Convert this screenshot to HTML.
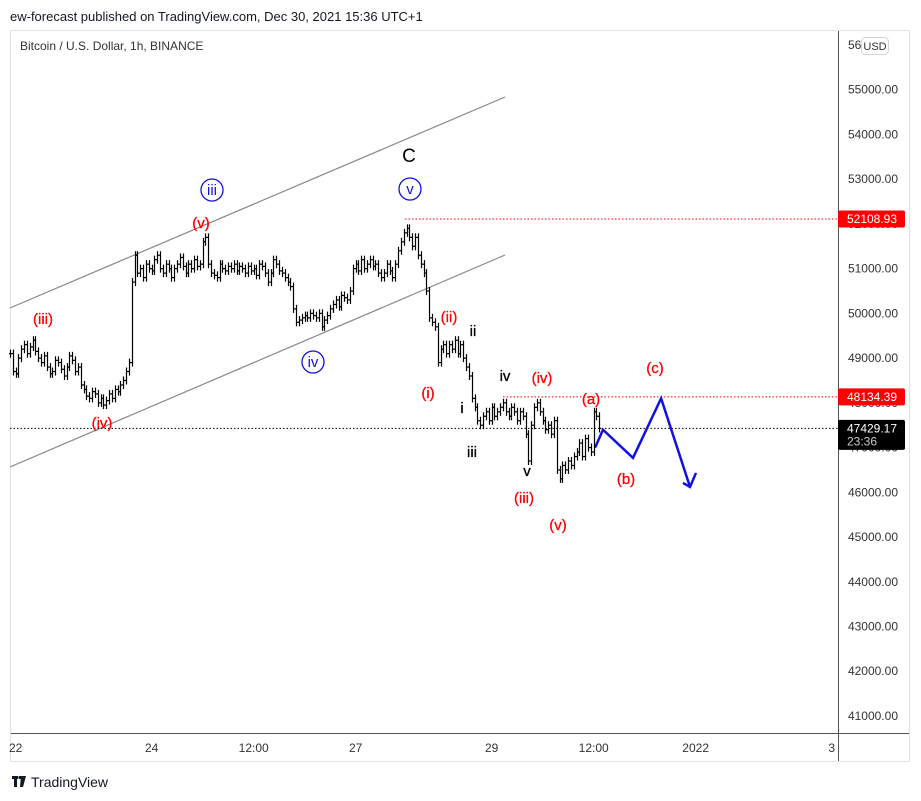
<!DOCTYPE html>
<html><head><meta charset="utf-8">
<style>
html,body{margin:0;padding:0;background:#fff;width:921px;height:801px;overflow:hidden;font-family:"Liberation Sans",sans-serif;}
svg text{font-family:"Liberation Sans",sans-serif;}
</style></head>
<body>
<svg id="chart" width="921" height="801" viewBox="0 0 921 801">
  <text x="10" y="21" font-size="13" fill="#131722">ew-forecast published on TradingView.com, Dec 30, 2021 15:36 UTC+1</text>
  <rect x="10.5" y="30.5" width="899" height="731" fill="#fff" stroke="#e0e3eb"/>
  <line x1="838.5" y1="31" x2="838.5" y2="761" stroke="#555"/>
  <line x1="11" y1="733.5" x2="909" y2="733.5" stroke="#555"/>
  <text x="20" y="50" font-size="12" fill="#333">Bitcoin / U.S. Dollar, 1h, BINANCE</text>
  <g id="yaxis"></g>
  <g id="xaxis"></g>
  <g id="lines"></g>
  <g id="bars"></g>
  <g id="labels"></g>
  <g id="pricetags"></g>
  <rect x="861.5" y="37.5" width="27" height="17" rx="4" fill="#fff" stroke="#d1d4dc"/>
  <text x="875" y="50" font-size="11" fill="#333" text-anchor="middle">USD</text>
  <g>
    <rect x="12" y="776" width="6" height="3" fill="#131722"/><rect x="14" y="776" width="3" height="11" fill="#131722"/>
    <path d="M21 776 L26 776 L23 787 L20 787 Z" fill="#131722"/><circle cx="20" cy="777.5" r="1.6" fill="#131722"/>
    <text x="31" y="787" font-size="14" fill="#131722">TradingView</text>
  </g>
</svg>
<script>
const closes = [49100,48700,48650,49000,49200,49300,49100,49250,49400,49150,49000,
48900,49050,48800,48650,48700,48950,48900,48750,48600,48800,49050,48950,48700,48800,
48400,48300,48150,48100,48250,48200,48000,48100,47950,48050,48200,48100,48300,48250,48400,
48500,48700,48900,50700,51300,
50900,51000,50800,51100,51000,50950,51200,51300,51000,50900,51100,51000,50800,51000,51100,51250,51050,50900,51100,51000,51200,51050,
51100,51600,51700,
51100,50900,50850,50800,51100,51000,50950,51050,51000,51100,50950,51050,51000,50900,51050,50950,51000,50850,51100,51050,50900,
50700,50900,51200,51100,50950,50900,50800,50700,
50600,50100,49800,
49850,49900,49950,49900,50000,49950,49900,50000,49700,49850,49950,
50100,50200,50300,50150,50400,50350,50300,50500,51000,
51100,50950,51200,51000,51100,51200,51050,51100,50900,50800,50900,51100,50950,50800,51100,
51400,51600,51800,51900,51700,
51500,51700,51300,51100,50900,
50500,49900,49800,49700,
48900,49200,49300,49100,
49300,49200,49400,49100,49300,49000,48800,48600,48100,
47900,47600,47500,47700,
47800,47600,47900,47700,47800,47900,48000,47800,47700,47900,
47800,47600,47800,47700,47300,46700,47500,47900,
48000,47800,47600,47400,47500,47300,47600,
46500,
46300,46600,46500,46700,46600,46800,46900,47100,46800,47200,47000,46900,
47800,47700,47429.17];
const priceTicks = [56000,55000,54000,53000,52000,51000,50000,49000,48000,47000,46000,45000,44000,43000,42000,41000];
const timeLabels = ["22","24","12:00","27","29","12:00","2022","3"];
const timeHours = [2,50,86,122,170,206,242,290];
const projection = [47000,47400,46770,48100,46120];
const projHours = [206.5,209.3,219.9,229.8,240];

const NS="http://www.w3.org/2000/svg";
function y(p){return 45+(56000-p)/1000*44.73;}
function x(i){return 10+i*2.8333;}
function mk(tag,attrs,parent,txt){const e=document.createElementNS(NS,tag);for(const k in attrs)e.setAttribute(k,attrs[k]);if(txt!==undefined)e.textContent=txt;parent.appendChild(e);return e;}

const ya=document.getElementById('yaxis');
priceTicks.forEach(p=>{
  if(p===56000)return;
  const t=mk('text',{x:898,y:y(p)+4,'font-size':12,fill:'#333','text-anchor':'end'},ya,p.toFixed(2));
  
  
});
const t56=mk('text',{x:848,y:y(56000)+4,'font-size':12,fill:'#333'},ya,'56');



const xa=document.getElementById('xaxis');
timeLabels.forEach((l,i)=>{
  const t=mk('text',{x:x(timeHours[i]),y:752,'font-size':12,fill:'#333','text-anchor':'middle'},xa,l);
  
  
});

const ln=document.getElementById('lines');
const up=mk('line',{x1:10,y1:308,x2:505,y2:97,stroke:'#888','stroke-width':1.2},ln);


const lo=mk('line',{x1:10,y1:467,x2:505,y2:255,stroke:'#888','stroke-width':1.2},ln);


const h1=mk('line',{x1:405,y1:y(52108.93),x2:838,y2:y(52108.93),stroke:'#f00','stroke-dasharray':'1.5,2'},ln);


const h2=mk('line',{x1:503,y1:y(48134.39),x2:838,y2:y(48134.39),stroke:'#f00','stroke-dasharray':'1.5,2'},ln);


const h3=mk('line',{x1:10,y1:y(47429.17),x2:838,y2:y(47429.17),stroke:'#000','stroke-dasharray':'1.5,2'},ln);



const bg=document.getElementById('bars');
closes.forEach((c,i)=>{
  const o=i>0?closes[i-1]:c;
  const hi=Math.max(o,c)+90, lw=Math.min(o,c)-90;
  const cx=Math.round(x(i))+0.5;
  const g=mk('g',{},bg);
  
  
  mk('line',{x1:cx,y1:y(hi),x2:cx,y2:y(lw),stroke:'#000','stroke-width':1.2},g);
  mk('line',{x1:cx-1.5,y1:y(o),x2:cx,y2:y(o),stroke:'#000','stroke-width':1.2},g);
  mk('line',{x1:cx,y1:y(c),x2:cx+1.5,y2:y(c),stroke:'#000','stroke-width':1.2},g);
});

const pts=projection.map((p,i)=>x(projHours[i]).toFixed(1)+','+y(p).toFixed(1)).join(' ');
const pl=mk('polyline',{points:pts,fill:'none',stroke:'#1010e0','stroke-width':2.5,'stroke-linejoin':'miter'},ln);


const ex=x(projHours[4]),ey=y(projection[4]);
const ah=mk('polyline',{points:`${ex-7},${ey-4} ${ex},${ey} ${ex+6},${ey-14}`,fill:'none',stroke:'#1010e0','stroke-width':2.5},ln);



const lb=document.getElementById('labels');
const red=[["(iii)",43,324],["(v)",201,228],["(iv)",102,428],["(ii)",449,322],["(i)",428,398],["(iv)",542,383],["(iii)",524,503],["(v)",558,530],["(a)",591,404],["(b)",626,484],["(c)",655,373]];
red.forEach(r=>{
  const t=mk('text',{x:r[1],y:r[2],'font-size':15,fill:'#f00','text-anchor':'middle','stroke':'#f00','stroke-width':0.3},lb,r[0]);
  
  
});
const blk=[["ii",473,336],["iv",505,381],["i",462,413],["iii",472,457],["v",527,476]];
blk.forEach(r=>{
  const t=mk('text',{x:r[1],y:r[2],'font-size':15,fill:'#000','text-anchor':'middle','stroke':'#000','stroke-width':0.3},lb,r[0]);
  
  
});
const cl=mk('text',{x:409,y:162,'font-size':19,fill:'#000','text-anchor':'middle'},lb,'C');


[["iii",212,190],["v",410,189],["iv",313,362]].forEach(r=>{
  const g=mk('g',{},lb);
  
  
  mk('circle',{cx:r[1],cy:r[2],r:11,fill:'none',stroke:'#1010e0','stroke-width':1.3},g);
  mk('text',{x:r[1],y:r[2]+5,'font-size':15,fill:'#1010e0','text-anchor':'middle'},g,r[0]);
});

const pt=document.getElementById('pricetags');
function tag(val,bg,name,sub){
  const yy=y(val);
  const g=mk('g',{},pt);
  
  
  const h=sub?30:17;
  mk('rect',{x:838,y:yy-8.5,width:67,height:h,rx:2,fill:bg},g);
  mk('text',{x:872,y:yy+4,'font-size':12,fill:'#fff','text-anchor':'middle'},g,val.toFixed(2));
  if(sub)mk('text',{x:847,y:yy+17,'font-size':12,fill:'#ccc'},g,sub);
}
tag(52108.93,'#f00','high-price-tag');
tag(48134.39,'#f00','level-price-tag');
tag(47429.17,'#000','last-price-tag','23:36');
</script>
</body></html>
